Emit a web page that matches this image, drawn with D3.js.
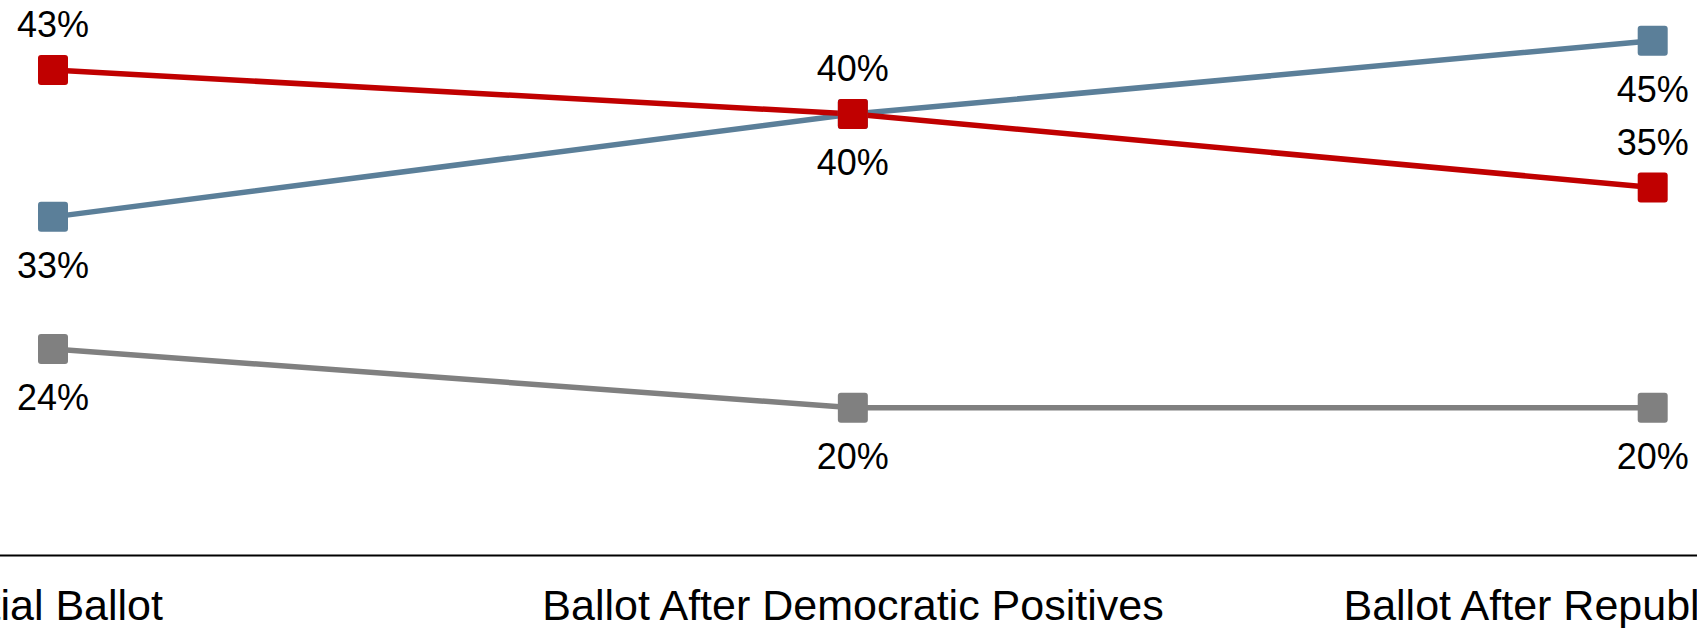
<!DOCTYPE html>
<html>
<head>
<meta charset="utf-8">
<script src="https://cdn.jsdelivr.net/npm/d3@7"></script>
<style>
  html, body { margin: 0; padding: 0; background: #fff; }
  svg { display: block; }
  text { font-family: "Liberation Sans", Arial, sans-serif; fill: #000; }
</style>
</head>
<body>
<svg id="chart" width="1697" height="628"></svg>
<script>
const categories = ["Initial Ballot", "Ballot After Democratic Positives", "Ballot After Republican Positives"];
const seriesNames = ["Republican", "Democrat", "Undecided"];
const republicanValues = [43, 40, 35];
const democratValues = [33, 40, 45];
const undecidedValues = [24, 20, 20];
const seriesColors = ["#C00000", "#5B7F99", "#808080"];
const labelAbove = [true, false, false];

const series = [
  { name: seriesNames[0], values: republicanValues, color: seriesColors[0], above: labelAbove[0] },
  { name: seriesNames[1], values: democratValues, color: seriesColors[1], above: labelAbove[1] },
  { name: seriesNames[2], values: undecidedValues, color: seriesColors[2], above: labelAbove[2] }
];

const W = 1697, H = 628;
const svg = d3.select("#chart");

const x = d3.scalePoint().domain(categories).range([53, 1652.7]);
const xBand = d3.scaleBand().domain(categories).range([-347, 2053]).padding(0);
const y = d3.scaleLinear().domain([20, 45]).range([407.7, 40.7]);

// axis
const axisY = 555;
const axis = d3.axisBottom(xBand).tickSize(0).tickSizeOuter(0).tickPadding(34);
const gAxis = svg.append("g").attr("transform", `translate(0,${axisY})`).call(axis);
gAxis.select(".domain").attr("stroke", "#000").attr("stroke-width", 2);
gAxis.selectAll("text")
  .attr("font-size", 43)
  .attr("font-family", "'Liberation Sans', Arial, sans-serif")
  .attr("fill", "#000");

const line = d3.line()
  .x((d, i) => x(categories[i]))
  .y(d => y(d));

// draw lines first (gray, blue, red order so red sits on top)
const order = [2, 1, 0];
order.forEach(si => {
  const s = series[si];
  svg.append("path")
    .datum(s.values)
    .attr("d", line)
    .attr("fill", "none")
    .attr("stroke", s.color)
    .attr("stroke-width", 5.5);
});

const ms = 30;
order.forEach(si => {
  const s = series[si];
  const g = svg.append("g");
  g.selectAll("rect")
    .data(s.values)
    .join("rect")
    .attr("x", (d, i) => x(categories[i]) - ms / 2)
    .attr("y", d => y(d) - ms / 2)
    .attr("width", ms)
    .attr("height", ms)
    .attr("rx", 3)
    .attr("fill", s.color);
  g.selectAll("text")
    .data(s.values)
    .join("text")
    .attr("x", (d, i) => x(categories[i]))
    .attr("y", d => s.above ? y(d) - 33 : y(d) + 61)
    .attr("text-anchor", "middle")
    .attr("font-size", 36)
    .text(d => d + "%");
});
</script>
</body>
</html>
